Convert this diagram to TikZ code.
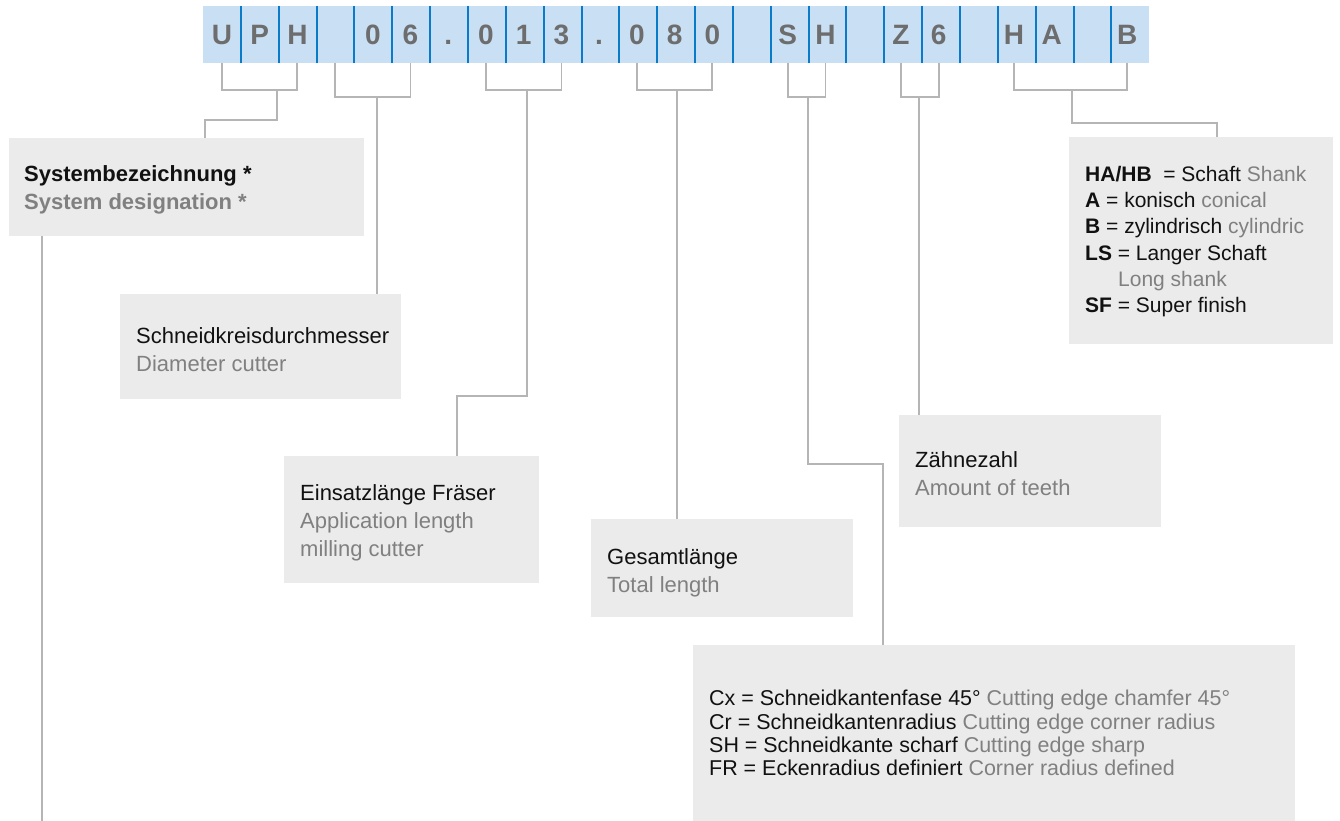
\documentclass[tikz,border=0pt]{standalone}
\usepackage{fontspec}
\setmainfont{Liberation Sans}
\definecolor{barfill}{HTML}{C9DFF4}
\definecolor{bardiv}{HTML}{0A7BC8}
\definecolor{cellgrey}{HTML}{6D6D6D}
\definecolor{boxfill}{HTML}{EBEBEB}
\definecolor{linegrey}{HTML}{B5B5B5}
\definecolor{txtgrey}{HTML}{808080}
\definecolor{txtblack}{HTML}{111111}
\tikzset{
  conn/.style={draw=linegrey, line width=1.8pt},
  divline/.style={draw=bardiv, line width=2pt},
  cell/.style={font=\fontsize{28}{28}\selectfont\bfseries, text=cellgrey, inner sep=0pt, anchor=base},
  box/.style={fill=boxfill, anchor=north west, inner sep=0pt},
  boxtext/.style={anchor=west, inner sep=0pt, align=left,
    font=\fontsize{22}{28}\selectfont, text=txtblack},
  smalltext/.style={boxtext, font=\fontsize{21.45}{23.3}\selectfont},
  hatext/.style={boxtext, font=\fontsize{21}{26.3}\selectfont},
}
\newcommand{\gr}[1]{{\color{txtgrey}#1}}
\begin{document}
\begin{tikzpicture}[x=1pt,y=-1pt]
\useasboundingbox (0,0) rectangle (1340,821);
% code bar
\node[fill=barfill, anchor=north west, inner sep=0pt, minimum width=946pt, minimum height=57pt] (bar) at (203,6) {};
\foreach \k in {1,...,24} \draw[divline] ({203+\k*37.85},6) -- ({203+\k*37.85},63);
\foreach \i/\t in {1/U,2/P,3/H,4/{},5/0,6/6,7/.,8/0,9/1,10/3,11/.,12/0,13/8,14/0,15/{},16/S,17/H,18/{},19/Z,20/6,21/{},22/H,23/A,24/{},25/B}
  \node[cell] (c\i) at ({203+(\i-0.5)*37.85-(\i-1)*0.13},45) {\t};
% boxes
\node[box, minimum width=355pt, minimum height=98pt] (sys) at (9,138) {};
\node[box, minimum width=281pt, minimum height=105pt] (schn) at (120,294) {};
\node[box, minimum width=255pt, minimum height=127pt] (ein) at (284,456) {};
\node[box, minimum width=262pt, minimum height=98pt] (ges) at (591,519) {};
\node[box, minimum width=262pt, minimum height=112pt] (zahn) at (899,415) {};
\node[box, minimum width=602pt, minimum height=176pt] (cx) at (693,645) {};
\node[box, minimum width=264pt, minimum height=207pt] (ha) at (1069,137) {};
% box texts
\node[boxtext] (sysT) at ([xshift=15pt,yshift=-3pt]sys.west)
  {\textbf{Systembezeichnung *}\\\gr{\textbf{System designation *}}};
\node[boxtext] (schnT) at ([xshift=16pt,yshift=-3pt]schn.west)
  {Schneidkreisdurchmesser\\\gr{Diameter cutter}};
\node[boxtext] (einT) at ([xshift=16pt,yshift=-3.5pt]ein.west)
  {Einsatzlänge Fräser\\\gr{Application length}\\\gr{milling cutter}};
\node[boxtext] (gesT) at ([xshift=16pt,yshift=-5pt]ges.west)
  {Gesamtlänge\\\gr{Total length}};
\node[boxtext] (zahnT) at ([xshift=16pt,yshift=-2pt]zahn.west)
  {Zähnezahl\\\gr{Amount of teeth}};
\node[smalltext] (cxT) at ([xshift=16pt]cx.west)
  {Cx = Schneidkantenfase 45° \gr{Cutting edge chamfer 45°}\\
   Cr = Schneidkantenradius \gr{Cutting edge corner radius}\\
   SH = Schneidkante scharf \gr{Cutting edge sharp}\\
   FR = Eckenradius definiert \gr{Corner radius defined}};
\node[hatext] (haT) at ([xshift=16pt,yshift=-1pt]ha.west)
  {\textbf{HA/HB}\ \ = Schaft \gr{Shank}\\
   \textbf{A} = konisch \gr{conical}\\
   \textbf{B} = zylindrisch \gr{cylindric}\\
   \textbf{LS} = Langer Schaft\\
   \hspace*{33pt}\gr{Long shank}\\
   \textbf{SF} = Super finish};
% brackets
\draw[conn] (c1 |- bar.south) -- ++(0,27) -| (c3 |- bar.south);
\draw[conn] (c4 |- bar.south) -- ++(0,34) -| (c6 |- bar.south);
\draw[conn] (c8 |- bar.south) -- ++(0,27) -| (c10 |- bar.south);
\draw[conn] (c12 |- bar.south) -- ++(0,27) -| (c14 |- bar.south);
\draw[conn] (c16 |- bar.south) -- ++(0,34) -| (c17 |- bar.south);
\draw[conn] (c19 |- bar.south) -- ++(0,34) -| (c20 |- bar.south);
\draw[conn] (c22 |- bar.south) -- ++(0,27) -| (c25 |- bar.south);
% stems
\coordinate (s1) at (277,90);
\coordinate (s2) at (376.7,97);
\coordinate (s3) at (526.7,90);
\coordinate (s4) at (676.7,90);
\coordinate (s5) at (808,97);
\coordinate (s6) at (919.3,97);
\coordinate (s7) at (1072.3,90);
\coordinate (e1) at (42,821);
\draw[conn] (s1) -- ++(0,30) -| ([xshift=196pt]sys.north west);
\draw[conn] (s2) -- (s2 |- schn.north);
\draw[conn] (s3) -- (526.7,396) -| ([xshift=173pt]ein.north west);
\draw[conn] (s4) -- (s4 |- ges.north);
\draw[conn] (s5) -- (808,464) -| ([xshift=190pt]cx.north west);
\draw[conn] (s6) -- (s6 |- zahn.north);
\draw[conn] (s7) -- (1072.3,123) -| ([xshift=148pt]ha.north west);
\draw[conn] (e1 |- sys.south) -- (e1);
\end{tikzpicture}
\end{document}
